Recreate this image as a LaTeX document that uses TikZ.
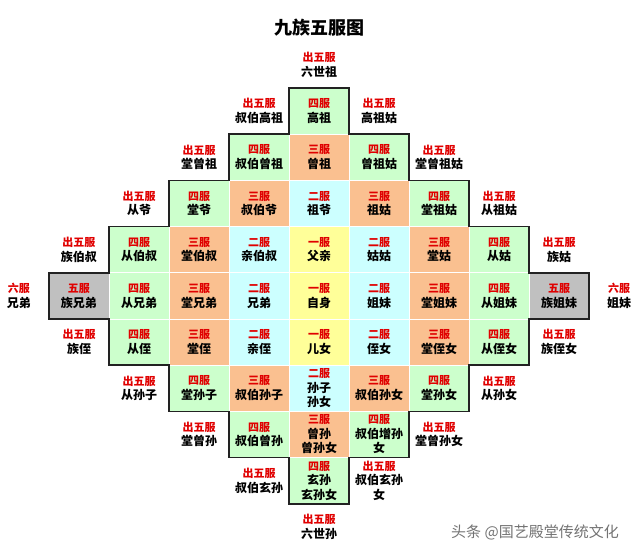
\documentclass[tikz,border=0pt]{standalone}
\usepackage{fontspec}
\newfontfamily\cjk{Noto Sans CJK SC}
\definecolor{cgreen}{HTML}{CCFFCC}
\definecolor{corange}{HTML}{FAC090}
\definecolor{cblue}{HTML}{CCFFFF}
\definecolor{cyellow}{HTML}{FFFF99}
\definecolor{cgray}{HTML}{C0C0C0}
\definecolor{fured}{HTML}{E00000}
\definecolor{outl}{HTML}{222222}
\newcommand\fw[1]{{\color{fured}\fontsize{11}{14.5}\selectfont #1}}
\newcommand\fcell[5]{\node[cellbox,fill=#3] (c#1r#2) at (#1+0.5,#2+0.5) {\fw{#4}\\#5};}
\newcommand\flbl[4]{\node[lbl] (o#1r#2) at (#1+0.5,#2+0.5) {\fw{#3}\\#4};}
\begin{document}
\begin{tikzpicture}[x=60pt,y=-46.2pt,
  txt/.style={align=center,inner sep=0pt,font=\cjk\bfseries\fontsize{12}{14.5}\selectfont},
  cellbox/.style={txt,draw=white,line width=0.8pt,minimum width=60pt,minimum height=46.2pt},
  lbl/.style={txt}]
\useasboundingbox (-0.81667,-1.90476) rectangle (9.85,10.0866);
% cells
\fcell{4}{0}{cgreen}{四服}{高祖}
\fcell{3}{1}{cgreen}{四服}{叔伯曾祖}
\fcell{4}{1}{corange}{三服}{曾祖}
\fcell{5}{1}{cgreen}{四服}{曾祖姑}
\fcell{2}{2}{cgreen}{四服}{堂爷}
\fcell{3}{2}{corange}{三服}{叔伯爷}
\fcell{4}{2}{cblue}{二服}{祖爷}
\fcell{5}{2}{corange}{三服}{祖姑}
\fcell{6}{2}{cgreen}{四服}{堂祖姑}
\fcell{1}{3}{cgreen}{四服}{从伯叔}
\fcell{2}{3}{corange}{三服}{堂伯叔}
\fcell{3}{3}{cblue}{二服}{亲伯叔}
\fcell{4}{3}{cyellow}{一服}{父亲}
\fcell{5}{3}{cblue}{二服}{姑姑}
\fcell{6}{3}{corange}{三服}{堂姑}
\fcell{7}{3}{cgreen}{四服}{从姑}
\fcell{0}{4}{cgray}{五服}{族兄弟}
\fcell{1}{4}{cgreen}{四服}{从兄弟}
\fcell{2}{4}{corange}{三服}{堂兄弟}
\fcell{3}{4}{cblue}{二服}{兄弟}
\fcell{4}{4}{cyellow}{一服}{自身}
\fcell{5}{4}{cblue}{二服}{姐妹}
\fcell{6}{4}{corange}{三服}{堂姐妹}
\fcell{7}{4}{cgreen}{四服}{从姐妹}
\fcell{8}{4}{cgray}{五服}{族姐妹}
\fcell{1}{5}{cgreen}{四服}{从侄}
\fcell{2}{5}{corange}{三服}{堂侄}
\fcell{3}{5}{cblue}{二服}{亲侄}
\fcell{4}{5}{cyellow}{一服}{儿女}
\fcell{5}{5}{cblue}{二服}{侄女}
\fcell{6}{5}{corange}{三服}{堂侄女}
\fcell{7}{5}{cgreen}{四服}{从侄女}
\fcell{2}{6}{cgreen}{四服}{堂孙子}
\fcell{3}{6}{corange}{三服}{叔伯孙子}
\fcell{4}{6}{cblue}{二服}{孙子\\孙女}
\fcell{5}{6}{corange}{三服}{叔伯孙女}
\fcell{6}{6}{cgreen}{四服}{堂孙女}
\fcell{3}{7}{cgreen}{四服}{叔伯曾孙}
\fcell{4}{7}{corange}{三服}{曾孙\\曾孙女}
\fcell{5}{7}{cgreen}{四服}{叔伯增孙\\女}
\fcell{4}{8}{cgreen}{四服}{玄孙\\玄孙女}
% outline
\draw[outl,line width=1.5pt,line join=miter]
  (4,0) -- (5,0) -- (5,1) -- (6,1) -- (6,2) -- (7,2) -- (7,3) -- (8,3) -- (8,4) -- (9,4)
  -- (9,5) -- (8,5) -- (8,6) -- (7,6) -- (7,7) -- (6,7) -- (6,8) -- (5,8) -- (5,9) -- (4,9)
  -- (4,8) -- (3,8) -- (3,7) -- (2,7) -- (2,6) -- (1,6) -- (1,5) -- (0,5) -- (0,4) -- (1,4)
  -- (1,3) -- (2,3) -- (2,2) -- (3,2) -- (3,1) -- (4,1) -- cycle;
% outer labels
\flbl{4}{-1}{出五服}{六世祖}
\flbl{3}{0}{出五服}{叔伯高祖}
\flbl{5}{0}{出五服}{高祖姑}
\flbl{2}{1}{出五服}{堂曾祖}
\flbl{6}{1}{出五服}{堂曾祖姑}
\flbl{1}{2}{出五服}{从爷}
\flbl{7}{2}{出五服}{从祖姑}
\flbl{0}{3}{出五服}{族伯叔}
\flbl{8}{3}{出五服}{族姑}
\flbl{-1}{4}{六服}{兄弟}
\flbl{9}{4}{六服}{姐妹}
\flbl{0}{5}{出五服}{族侄}
\flbl{8}{5}{出五服}{族侄女}
\flbl{1}{6}{出五服}{从孙子}
\flbl{7}{6}{出五服}{从孙女}
\flbl{2}{7}{出五服}{堂曾孙}
\flbl{6}{7}{出五服}{堂曾孙女}
\flbl{3}{8}{出五服}{叔伯玄孙}
\flbl{5}{8}{出五服}{叔伯玄孙\\女}
\flbl{4}{9}{出五服}{六世孙}
% title
\node[font=\cjk\bfseries\fontsize{18}{20}\selectfont,inner sep=0pt] (title) at (4.5,-1.30) {九族五服图};
% watermark
\node[font=\cjk\fontsize{15}{17}\selectfont,text=black!55,inner sep=0pt] (wm) at (8.1,9.63) {头条 @国艺殿堂传统文化};
\end{tikzpicture}
\end{document}
